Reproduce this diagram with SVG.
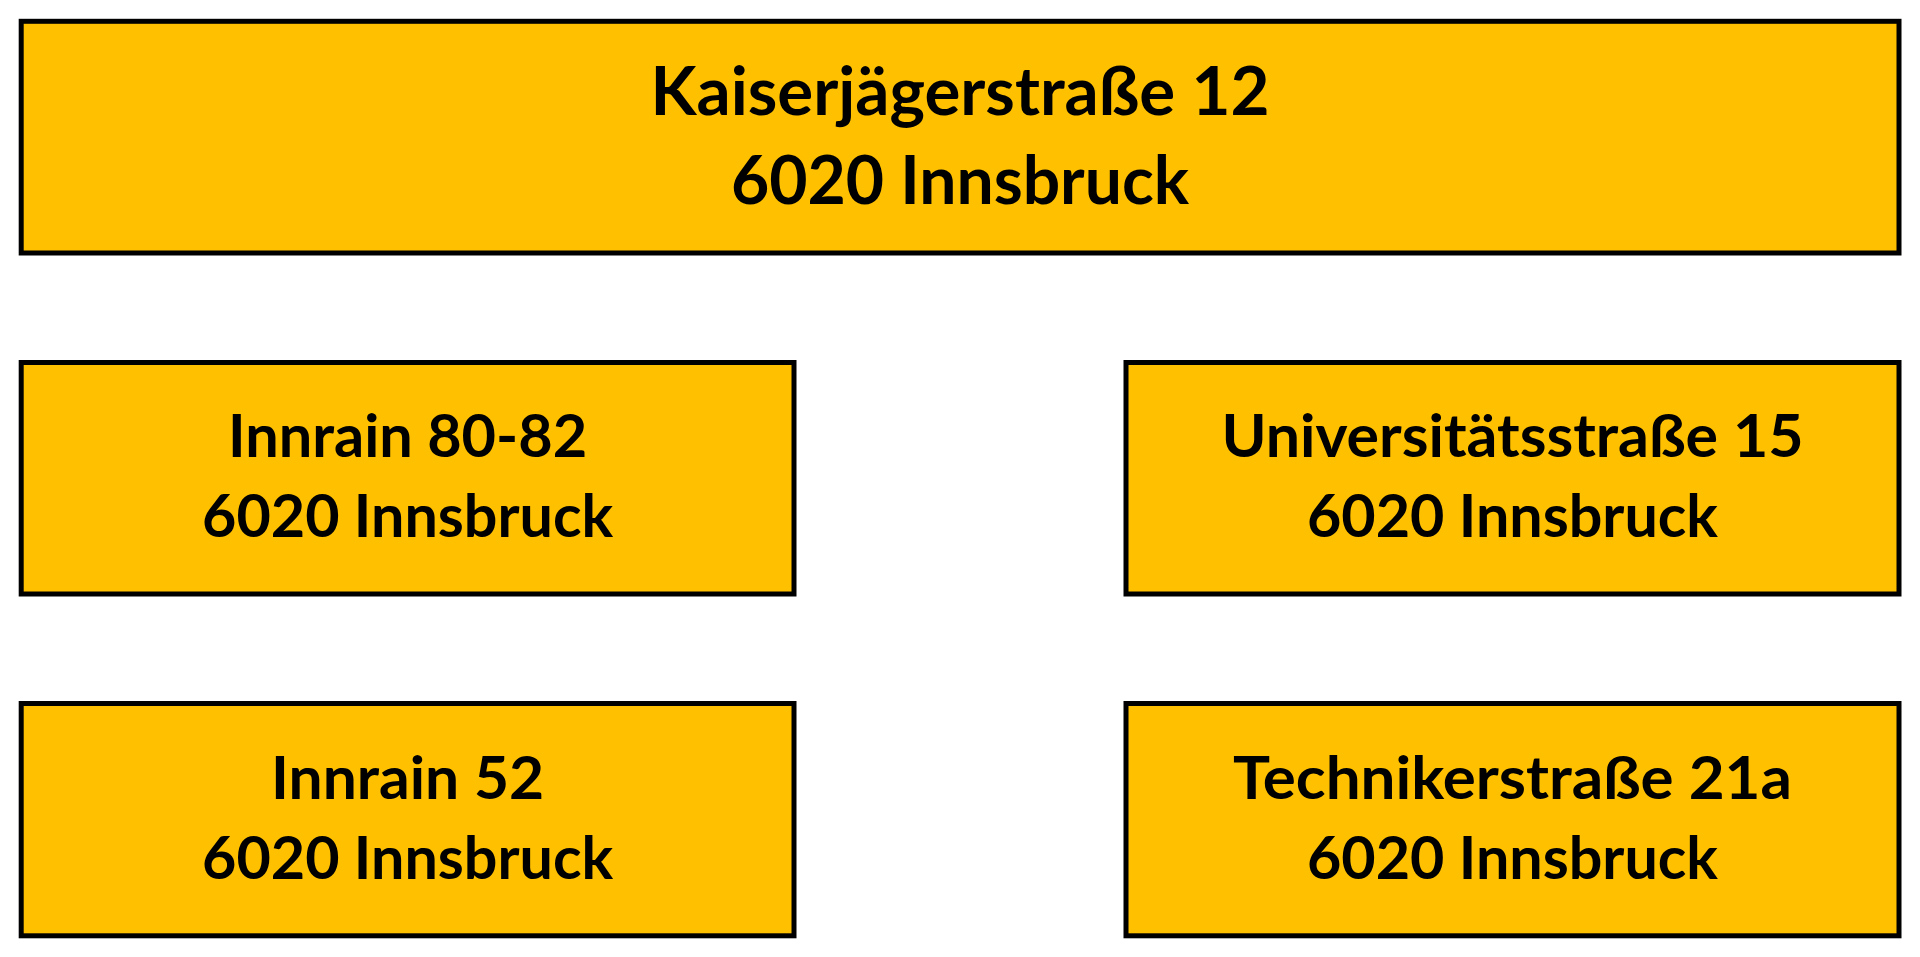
<svg xmlns="http://www.w3.org/2000/svg" width="1920" height="957" viewBox="0 0 1920 957">
<style>
.box{fill:#FFC000;stroke:#000;stroke-width:5}
.t{font-family:Lato,"Open Sans","Liberation Sans",sans-serif;font-weight:bold;fill:#000;text-anchor:middle}
.big{font-size:66px}
.mid{font-size:60px}
</style>
<rect width="1920" height="957" fill="#fff"/>
<g id="node-kaiserjaeger">
<rect class="box" x="21.2" y="21.3" width="1877.8" height="231.7"/>
<text class="t big" x="960" y="115" textLength="619" lengthAdjust="spacingAndGlyphs">Kaiserjägerstraße 12</text>
<text class="t big" x="960" y="204" textLength="458" lengthAdjust="spacingAndGlyphs">6020 Innsbruck</text>
</g>
<g id="node-innrain8082">
<rect class="box" x="21.2" y="362.5" width="772.8" height="231.5"/>
<text class="t mid" x="407.6" y="457" textLength="359" lengthAdjust="spacingAndGlyphs">Innrain 80-82</text>
<text class="t mid" x="407.6" y="537" textLength="411" lengthAdjust="spacingAndGlyphs">6020 Innsbruck</text>
</g>
<g id="node-universitaet">
<rect class="box" x="1126" y="362.5" width="773" height="231.5"/>
<text class="t mid" x="1512.5" y="457" textLength="582" lengthAdjust="spacingAndGlyphs">Universitätsstraße 15</text>
<text class="t mid" x="1512.5" y="537" textLength="411" lengthAdjust="spacingAndGlyphs">6020 Innsbruck</text>
</g>
<g id="node-innrain52">
<rect class="box" x="21.2" y="703.5" width="772.8" height="232.3"/>
<text class="t mid" x="407.6" y="798.7" textLength="273" lengthAdjust="spacingAndGlyphs">Innrain 52</text>
<text class="t mid" x="407.6" y="878.7" textLength="411" lengthAdjust="spacingAndGlyphs">6020 Innsbruck</text>
</g>
<g id="node-technik">
<rect class="box" x="1126" y="703.5" width="773" height="232.3"/>
<text class="t mid" x="1512.5" y="798.7" textLength="559" lengthAdjust="spacingAndGlyphs">Technikerstraße 21a</text>
<text class="t mid" x="1512.5" y="878.7" textLength="411" lengthAdjust="spacingAndGlyphs">6020 Innsbruck</text>
</g>
<g id="connectors"></g>
</svg>
